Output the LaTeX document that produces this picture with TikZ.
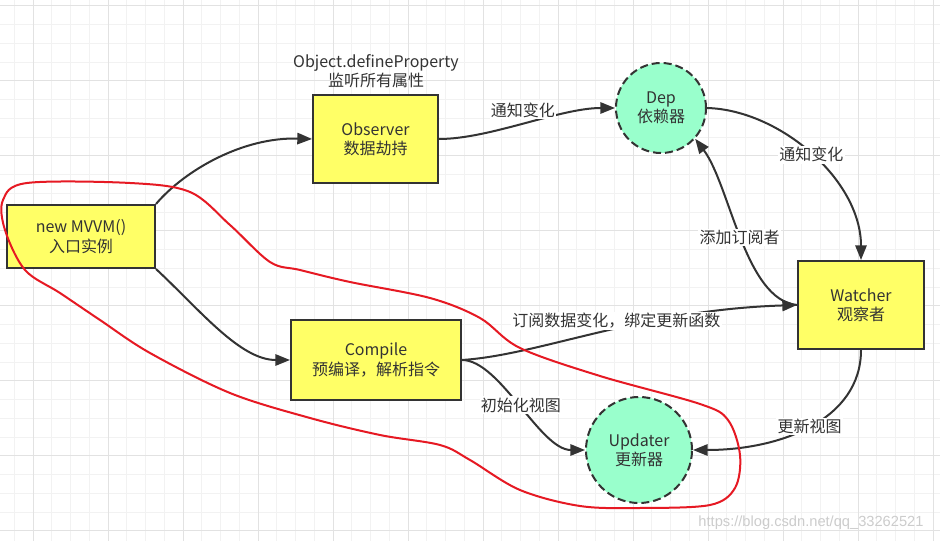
\documentclass[tikz,border=0pt]{standalone}
\usepackage{fontspec}
\setmainfont{Noto Sans CJK SC}
\newfontfamily\wmfont{Liberation Sans}
\usetikzlibrary{arrows.meta}
\definecolor{boxyellow}{RGB}{255,255,102}
\definecolor{depgreen}{RGB}{153,255,204}
\definecolor{inkgray}{RGB}{51,51,51}
\definecolor{penred}{RGB}{230,25,35}
\definecolor{gridminor}{RGB}{242,242,242}
\definecolor{gridmajor}{RGB}{226,226,226}

\begin{document}
\begin{tikzpicture}[x=0.75pt,y=-0.75pt,
  every node/.style={font=\fontsize{12pt}{14.5pt}\selectfont,text=inkgray,align=center},
  block/.style={draw=inkgray,line width=1.5pt,fill=boxyellow,inner sep=0pt},
  bubble/.style={circle,draw=inkgray,line width=1.5pt,dash pattern=on 6pt off 3pt,fill=depgreen,inner sep=0pt},
  link/.style={draw=inkgray,line width=1.5pt,-{Triangle[length=11pt,width=8.5pt]}},
  lbl/.style={fill=white,inner sep=1pt},
  pen/.style={draw=penred,line width=1.5pt}]
\useasboundingbox (0,0) rectangle (940,541);
\fill[white] (0,0) rectangle (940,541);

\foreach \k in {0,...,49} \draw[gridminor,line width=0.75pt] ({14.25+18.75*\k},0) -- ({14.25+18.75*\k},541);
\foreach \k in {0,...,28} \draw[gridminor,line width=0.75pt] (0,{6+18.75*\k}) -- (940,{6+18.75*\k});
\foreach \k in {0,...,12} \draw[gridmajor,line width=0.75pt] ({33+75*\k},0) -- ({33+75*\k},541);
\foreach \k in {0,...,7} \draw[gridmajor,line width=0.75pt] (0,{6+75*\k}) -- (940,{6+75*\k});

\node[block,minimum width=111pt,minimum height=47.25pt] (mvvm) at (81,236.5) {new MVVM()\\入口实例};
\node[block,minimum width=93.75pt,minimum height=66pt] (obs) at (375.5,139) {Observer\\数据劫持};
\node (def) at (376,71) {Object.defineProperty\\监听所有属性};
\node[block,minimum width=127.5pt,minimum height=60pt] (cmp) at (376,360) {Compile\\预编译，解析指令};
\node[block,minimum width=94.5pt,minimum height=66pt] (wat) at (861,305) {Watcher\\观察者};
\node[bubble,minimum size=67.5pt] (dep) at (661,108) {Dep\\依赖器};
\node[bubble,minimum size=79.5pt] (upd) at (639,450) {Updater\\更新器};

\draw[link] (mvvm.north east) .. controls (185,170) and (243,137) .. (obs.west);
\draw[link] (mvvm.south east) .. controls (200,310) and (240,360) .. (cmp.west);
\draw[link] (obs.east) .. controls (490,139) and (560,108) .. (dep.west) node[lbl,pos=0.5,yshift=10pt,xshift=-2pt] (l1) {通知变化};
\draw[link] (dep.east) .. controls (780,110) and (861,180) .. (wat.north) node[lbl,pos=0.5] (l2) {通知变化};
\draw[link] (wat.west) .. controls (745,300) and (730,185) .. (dep.-42) node[lbl,pos=0.5] (l3) {添加订阅者};
\draw[link] (cmp.east) .. controls (540,355) and (640,310) .. (wat.west) node[lbl,pos=0.55,yshift=6pt] (l4) {订阅数据变化，绑定更新函数};
\draw[link] (cmp.east) .. controls (500,360) and (540,450) .. (upd.west) node[lbl,pos=0.5] (l5) {初始化视图};
\draw[link] (wat.south) .. controls (861,420) and (780,450) .. (upd.east) node[lbl,pos=0.5] (l6) {更新视图};

\draw[pen] plot[smooth cycle,tension=0.55] coordinates {(27,183) (130,183) (190,192) (230,225) (270,262) (300,270) (350,282) (430,298) (480,318) (520,348) (600,376) (700,404) (728,420) (740,455) (735,488) (710,505) (640,508) (580,506) (520,490) (470,460) (440,445) (380,435) (310,418) (230,393) (150,353) (100,320) (60,293) (25,270) (5,230) (3,200)};

\node[font=\wmfont\fontsize{11pt}{13pt}\selectfont,text=gray!40] (wm) at (811,523) {https://blog.csdn.net/qq\_33262521};
\end{tikzpicture}
\end{document}
